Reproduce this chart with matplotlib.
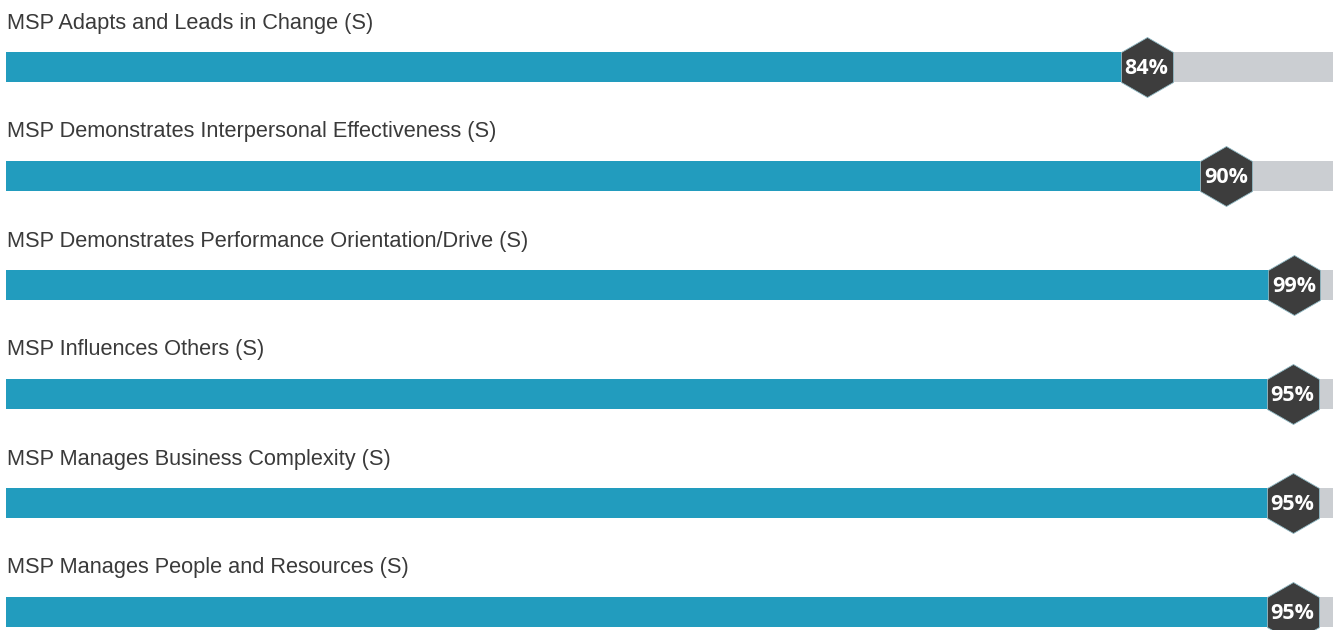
import matplotlib
matplotlib.use('Agg')
import matplotlib.pyplot as plt

# competency scores, top to bottom
labels = ['MSP Adapts and Leads in Change (S)',
          'MSP Demonstrates Interpersonal Effectiveness (S)',
          'MSP Demonstrates Performance Orientation/Drive (S)',
          'MSP Influences Others (S)',
          'MSP Manages Business Complexity (S)',
          'MSP Manages People and Resources (S)']
scores = [84, 90, 99, 95, 95, 95]

W, H, DPI = 1339, 630, 100
blue = '#229cbe'
track = '#cbced2'
hexcol = '#3d3d3d'

fig = plt.figure(figsize=(W / DPI, H / DPI), dpi=DPI)
ax = fig.add_axes([6 / W, 0, 1327 / W, 1])
ax.set_xlim(0, 100)
row = 109.0
ax.set_ylim((H - 67) / row, -67 / row)
ax.axis('off')

px = 100 / 1327.0          # one pixel in x data units
hex_h = 60 * 0.72          # marker size in points (60 px)
half_w = 26 * px
max_c = 100 - (13 + 26) * px

for i, (lab, v) in enumerate(zip(labels, scores)):
    ax.barh(i, 100, height=30 / row, color=track, left=0)
    ax.barh(i, v, height=30 / row, color=blue, left=0)
    ax.text(0.05, i - 44 / row, lab, fontsize=15.7, family='Liberation Sans',
            color='#3a3a3a', va='center', ha='left')
    cx = min(v + half_w, max_c)
    ax.plot([cx], [i], marker='h', markersize=hex_h, color=hexcol,
            markeredgecolor='#8fb9c4', markeredgewidth=0.6, linestyle='none')
    ax.text(cx, i + 0.015, f'{v}%', fontsize=15.5, family='Open Sans',
            fontweight='bold', color='white', ha='center', va='center')

fig.savefig('out.png', dpi=DPI)
